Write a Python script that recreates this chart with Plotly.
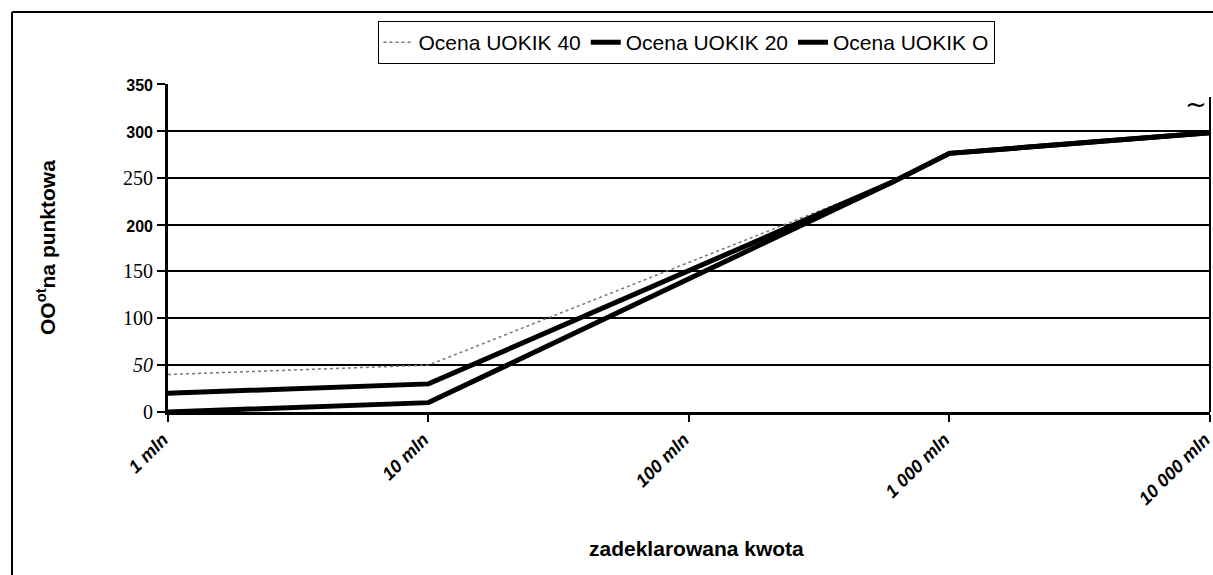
import plotly.graph_objects as go

# ---- data ----
kwota_mln = [1, 10, 600, 1000, 10000]
ocena_40 = [40, 50, 245, 276, 298]
ocena_20 = [20, 30, 245, 276, 298]
ocena_0 = [0, 10, 245, 276, 298]
series_names = ["Ocena UOKIK 40", "Ocena UOKIK 20", "Ocena UOKIK O"]

x_tickvals = [1, 10, 100, 1000, 10000]
x_ticktext = ["1 mln", "10 mln", "100 mln", "1 000 mln", "10 000 mln"]
y_tickvals = [0, 50, 100, 150, 200, 250, 300, 350]

W, H = 1213, 575
L, R, T, B = 168, 3, 84, 163
PW, PH = W - L - R, H - T - B


def px(xp):
    return (xp - L) / PW


def py(yp):
    return (H - B - yp) / PH


SANS_B = "font-family:Liberation Sans, Arial;font-weight:bold;font-size:16px"
y_ticktext = []
for v in y_tickvals:
    if v in (350, 300, 200):
        y_ticktext.append(f"<span style='{SANS_B}'>{v}</span>")
    elif v == 50:
        y_ticktext.append(f"<i>{v}</i>")
    else:
        y_ticktext.append(str(v))

fig = go.Figure()
fig.add_trace(go.Scatter(x=kwota_mln, y=ocena_40, mode="lines", name=series_names[0],
                         line=dict(color="#777777", width=1.5, dash="dot")))
fig.add_trace(go.Scatter(x=kwota_mln, y=ocena_20, mode="lines", name=series_names[1],
                         line=dict(color="black", width=5)))
fig.add_trace(go.Scatter(x=kwota_mln, y=ocena_0, mode="lines", name=series_names[2],
                         line=dict(color="black", width=5)))

fig.update_layout(
    width=W, height=H,
    margin=dict(l=L, r=R, t=T, b=B, autoexpand=False),
    paper_bgcolor="white", plot_bgcolor="white",
    showlegend=True,
    legend=dict(orientation="h", x=px(686), xanchor="center", y=py(21), yanchor="top",
                bordercolor="black", borderwidth=1, bgcolor="white",
                font=dict(family="Liberation Sans, Arial", size=21, color="black"),
                itemwidth=30, tracegroupgap=0),
    xaxis=dict(type="log", range=[0, 4.0005], tickvals=x_tickvals,
               ticktext=[f"<b><i>{t}</i></b>" for t in x_ticktext],
               tickangle=-45, tickfont=dict(family="Liberation Sans, Arial", size=18, color="black"),
               ticklabeloverflow="allow", ticklabelshift=-5,
               showline=True, linecolor="black", linewidth=3, ticks="outside",
               ticklen=7, tickwidth=2, tickcolor="black", showgrid=False, zeroline=False,
               automargin=False),
    yaxis=dict(range=[0, 350], tickvals=y_tickvals, ticktext=y_ticktext,
               tickfont=dict(family="Liberation Serif, Times New Roman", size=20, color="black"),
               showline=True, linecolor="black", linewidth=3, ticks="outside",
               ticklen=8, tickwidth=2, tickcolor="black",
               showgrid=True, gridcolor="black", gridwidth=2, zeroline=False,
               automargin=False),
)

fig.add_annotation(text="<b>OO<sup>ot</sup>na punktowa</b>", textangle=-90,
                   xref="paper", yref="paper", x=px(46), y=py(248),
                   xanchor="center", yanchor="middle", showarrow=False,
                   font=dict(family="Liberation Sans, Arial", size=21, color="black"))
fig.add_annotation(text="<b>zadeklarowana kwota</b>",
                   xref="paper", yref="paper", x=px(696), y=py(548),
                   xanchor="center", yanchor="middle", showarrow=False,
                   font=dict(family="Liberation Sans, Arial", size=21, color="black"))
fig.add_annotation(text="~", xref="paper", yref="paper", x=px(1196), y=py(104),
                   xanchor="center", yanchor="middle", showarrow=False,
                   font=dict(family="DejaVu Sans", size=26, color="black"))

# scanned frame lines
fig.add_shape(type="line", xref="paper", yref="paper", x0=px(12), x1=px(1213), y0=py(12), y1=py(12),
              line=dict(color="black", width=2))
fig.add_shape(type="line", xref="paper", yref="paper", x0=px(12), x1=px(12), y0=py(12), y1=py(575),
              line=dict(color="black", width=2))
fig.add_shape(type="line", xref="paper", yref="paper", x0=px(1210), x1=px(1210), y0=py(97), y1=py(412),
              line=dict(color="black", width=2))

fig.write_html("out.html", post_script="document.body.style.margin='0';",
               config={"displayModeBar": False})
